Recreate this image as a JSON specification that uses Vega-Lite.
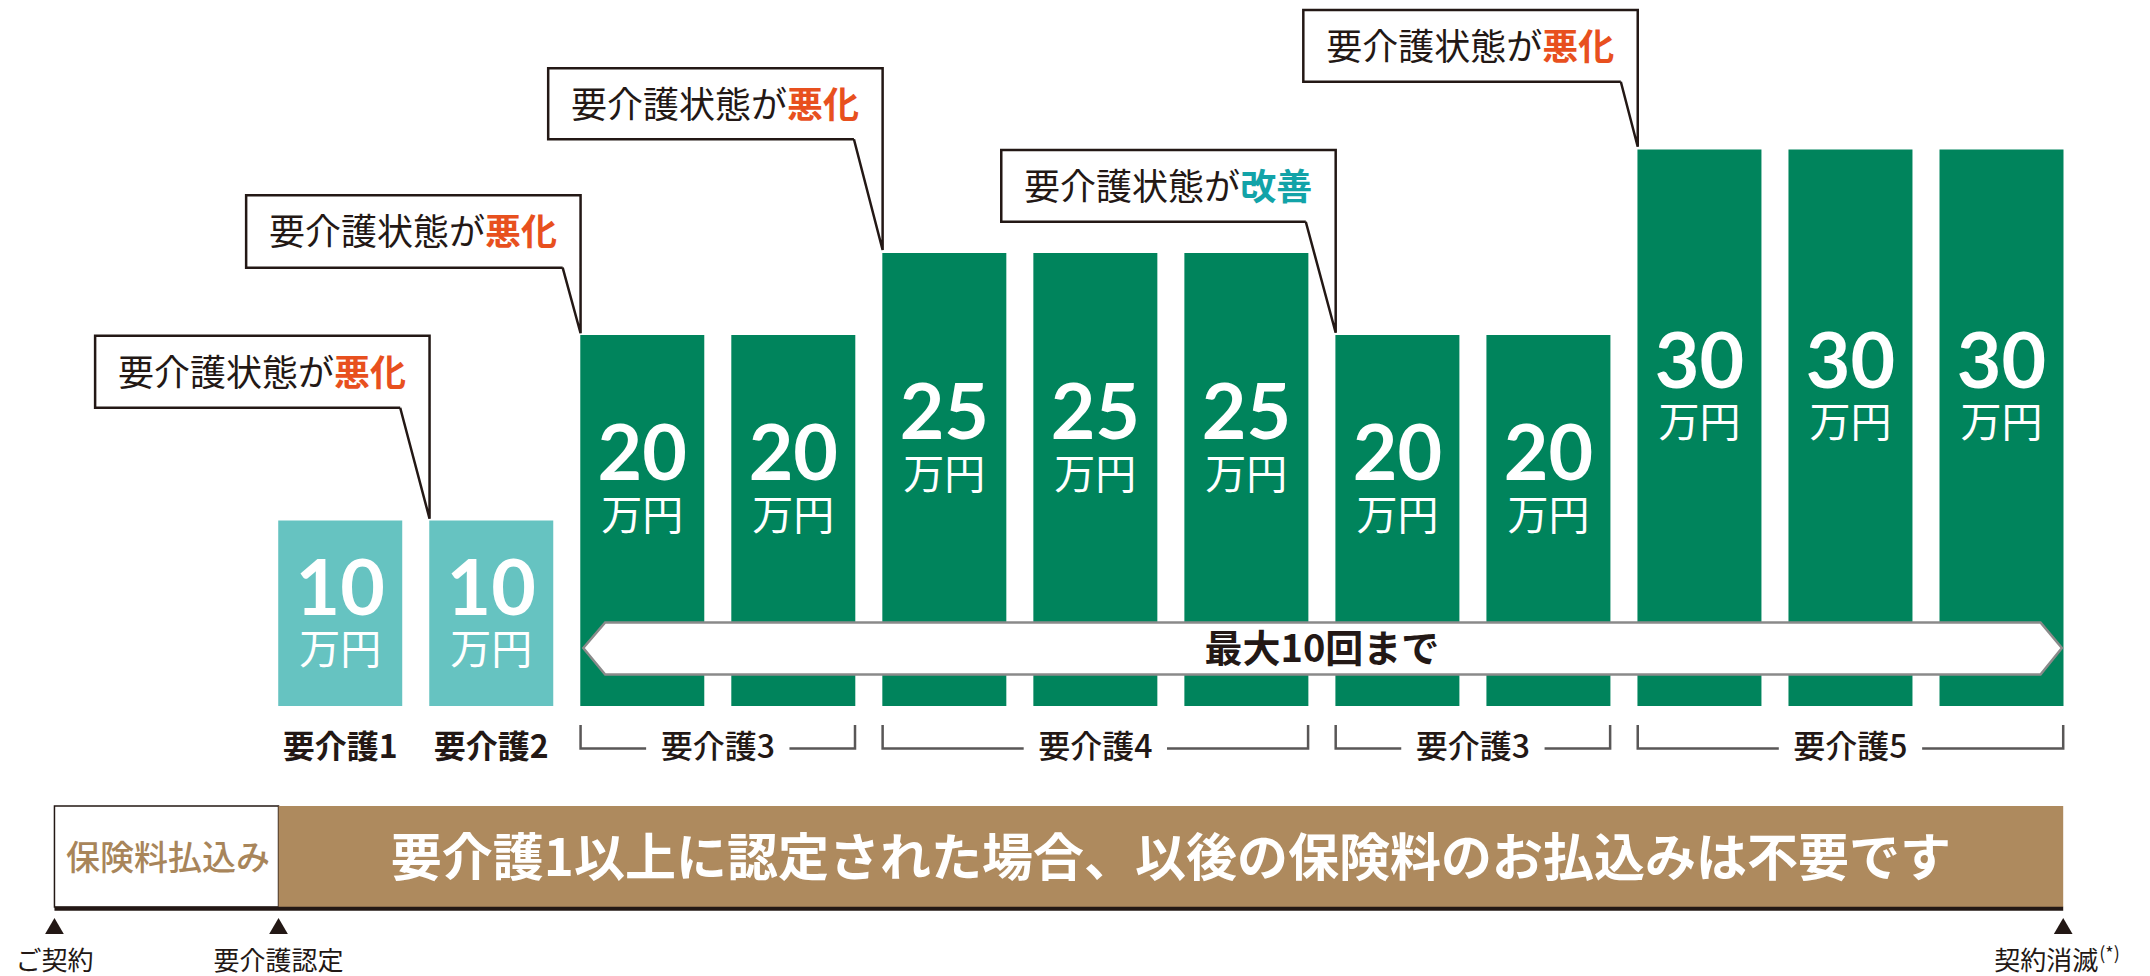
{
  "$schema": "https://vega.github.io/schema/vega-lite/v6.json",
  "width": 2150,
  "height": 976,
  "padding": 0,
  "autosize": {"type": "fit", "contains": "padding"},
  "background": "white",
  "config": {"view": {"stroke": null}, "text": {"font": "Noto Sans CJK JP"}},
  "datasets": {
    "bars": [
      {"x": 1, "amount": 10, "care": "要介護1"},
      {"x": 2, "amount": 10, "care": "要介護2"},
      {"x": 3, "amount": 20, "care": "要介護3"},
      {"x": 4, "amount": 20, "care": "要介護3"},
      {"x": 5, "amount": 25, "care": "要介護4"},
      {"x": 6, "amount": 25, "care": "要介護4"},
      {"x": 7, "amount": 25, "care": "要介護4"},
      {"x": 8, "amount": 20, "care": "要介護3"},
      {"x": 9, "amount": 20, "care": "要介護3"},
      {"x": 10, "amount": 30, "care": "要介護5"},
      {"x": 11, "amount": 30, "care": "要介護5"},
      {"x": 12, "amount": 30, "care": "要介護5"}
    ],
    "callouts": [
      {"id": "c1", "ord": 0, "x": 1.397, "y": 16.081},
      {"id": "c1", "ord": 1, "x": -0.623, "y": 16.081},
      {"id": "c1", "ord": 2, "x": -0.623, "y": 19.962},
      {"id": "c1", "ord": 3, "x": 1.5914, "y": 19.962},
      {"id": "c1", "ord": 4, "x": 1.5914, "y": 10.1},
      {"id": "c1", "ord": 5, "x": 1.397, "y": 16.081},
      {"id": "c2", "ord": 0, "x": 2.4728, "y": 24.104},
      {"id": "c2", "ord": 1, "x": 0.377, "y": 24.104},
      {"id": "c2", "ord": 2, "x": 0.377, "y": 27.787},
      {"id": "c2", "ord": 3, "x": 2.5914, "y": 27.787},
      {"id": "c2", "ord": 4, "x": 2.5914, "y": 20.104},
      {"id": "c2", "ord": 5, "x": 2.4728, "y": 24.104},
      {"id": "c3", "ord": 0, "x": 4.4014, "y": 30.55},
      {"id": "c3", "ord": 1, "x": 2.377, "y": 30.55},
      {"id": "c3", "ord": 2, "x": 2.377, "y": 34.377},
      {"id": "c3", "ord": 3, "x": 4.5914, "y": 34.377},
      {"id": "c3", "ord": 4, "x": 4.5914, "y": 25.145},
      {"id": "c3", "ord": 5, "x": 4.4014, "y": 30.55},
      {"id": "c4", "ord": 0, "x": 7.3934, "y": 26.512},
      {"id": "c4", "ord": 1, "x": 5.377, "y": 26.512},
      {"id": "c4", "ord": 2, "x": 5.377, "y": 29.976},
      {"id": "c4", "ord": 3, "x": 7.5914, "y": 29.976},
      {"id": "c4", "ord": 4, "x": 7.5914, "y": 20.14},
      {"id": "c4", "ord": 5, "x": 7.3934, "y": 26.512},
      {"id": "c5", "ord": 0, "x": 9.4794, "y": 33.655},
      {"id": "c5", "ord": 1, "x": 7.377, "y": 33.655},
      {"id": "c5", "ord": 2, "x": 7.377, "y": 37.52},
      {"id": "c5", "ord": 3, "x": 9.5914, "y": 37.52},
      {"id": "c5", "ord": 4, "x": 9.5914, "y": 30.15},
      {"id": "c5", "ord": 5, "x": 9.4794, "y": 33.655}
    ],
    "calloutText": [
      {"x": 0.9587, "y": 18.02, "pre": "要介護状態が", "post": "悪化", "tone": "worse"},
      {"x": 1.9587, "y": 26.039, "pre": "要介護状態が", "post": "悪化", "tone": "worse"},
      {"x": 3.9587, "y": 32.464, "pre": "要介護状態が", "post": "悪化", "tone": "worse"},
      {"x": 6.9587, "y": 28.249, "pre": "要介護状態が", "post": "改善", "tone": "better"},
      {"x": 8.9587, "y": 35.588, "pre": "要介護状態が", "post": "悪化", "tone": "worse"}
    ],
    "banner": [
      {"x": 2.6094, "y": 3.127, "y2": 3.127},
      {"x": 2.7544, "y": 4.501, "y2": 1.698},
      {"x": 12.2583, "y": 4.501, "y2": 1.698},
      {"x": 12.4, "y": 3.127, "y2": 3.127}
    ],
    "careLabels": [
      {"x": 1, "label": "要介護1", "group": "single"},
      {"x": 2, "label": "要介護2", "group": "single"},
      {"x": 3.5, "label": "要介護3", "group": "range"},
      {"x": 6, "label": "要介護4", "group": "range"},
      {"x": 8.5, "label": "要介護3", "group": "range"},
      {"x": 11, "label": "要介護5", "group": "range"}
    ],
    "brackets": [
      {"id": "b1l", "ord": 0, "x": 2.5914, "y": -1.024},
      {"id": "b1l", "ord": 1, "x": 2.5914, "y": -2.291},
      {"id": "b1l", "ord": 2, "x": 3.0255, "y": -2.291},
      {"id": "b1r", "ord": 0, "x": 3.9745, "y": -2.291},
      {"id": "b1r", "ord": 1, "x": 4.4086, "y": -2.291},
      {"id": "b1r", "ord": 2, "x": 4.4086, "y": -1.024},
      {"id": "b2l", "ord": 0, "x": 4.5914, "y": -1.024},
      {"id": "b2l", "ord": 1, "x": 4.5914, "y": -2.291},
      {"id": "b2l", "ord": 2, "x": 5.5255, "y": -2.291},
      {"id": "b2r", "ord": 0, "x": 6.4745, "y": -2.291},
      {"id": "b2r", "ord": 1, "x": 7.4086, "y": -2.291},
      {"id": "b2r", "ord": 2, "x": 7.4086, "y": -1.024},
      {"id": "b3l", "ord": 0, "x": 7.5914, "y": -1.024},
      {"id": "b3l", "ord": 1, "x": 7.5914, "y": -2.291},
      {"id": "b3l", "ord": 2, "x": 8.0255, "y": -2.291},
      {"id": "b3r", "ord": 0, "x": 8.9745, "y": -2.291},
      {"id": "b3r", "ord": 1, "x": 9.4086, "y": -2.291},
      {"id": "b3r", "ord": 2, "x": 9.4086, "y": -1.024},
      {"id": "b4l", "ord": 0, "x": 9.5914, "y": -1.024},
      {"id": "b4l", "ord": 1, "x": 9.5914, "y": -2.291},
      {"id": "b4l", "ord": 2, "x": 10.5255, "y": -2.291},
      {"id": "b4r", "ord": 0, "x": 11.4745, "y": -2.291},
      {"id": "b4r", "ord": 1, "x": 12.4086, "y": -2.291},
      {"id": "b4r", "ord": 2, "x": 12.4086, "y": -1.024}
    ],
    "bottomBar": [
      {"x": -0.8922, "x2": 0.5914, "y": -5.391, "y2": -10.836, "part": "paid", "text": "保険料払込み", "tx": -0.14},
      {"x": 0.5914, "x2": 12.4086, "y": -5.391, "y2": -10.836, "part": "waived", "text": "要介護1以上に認定された場合、以後の保険料のお払込みは不要です", "tx": 6.5}
    ],
    "timeline": [
      {"x": -0.8922, "label": "ご契約", "end": false},
      {"x": 0.5914, "label": "要介護認定", "end": false},
      {"x": 12.4086, "label": "契約消滅", "end": true}
    ]
  },
  "encoding": {
    "x": {"field": "x", "type": "quantitative", "scale": {"domain": [-1.2197, 12.9502], "nice": false, "zero": false}, "axis": null}
  },
  "resolve": {"scale": {"y": "independent"}},
  "layer": [
    {
      "layer": [
        {
          "data": {"name": "bars"},
          "mark": {"type": "bar", "size": 124},
          "encoding": {
            "y": {"field": "amount", "type": "quantitative", "scale": {"domain": [-14.555, 20, 25, 30, 38.06], "range": [976, 335, 253, 149.5, 0], "nice": false, "zero": false}, "axis": null},
            "y2": {"datum": 0},
            "color": {"condition": {"test": "datum.amount <= 10", "value": "#66C3C1"}, "value": "#00845C"}
          }
        },
        {
          "data": {"name": "banner"},
          "mark": {"type": "area", "fill": "#ffffff", "stroke": "#8a8a8a", "strokeWidth": 2.5, "strokeJoin": "miter"},
          "encoding": {
            "y": {"field": "y", "type": "quantitative", "scale": {"domain": [-14.555, 20, 25, 30, 38.06], "range": [976, 335, 253, 149.5, 0], "nice": false, "zero": false}, "axis": null},
            "y2": {"field": "y2"}
          }
        },
        {
          "data": {"values": [{"x": 7.5, "y": 3.127, "text": "最大10回まで"}]},
          "mark": {"type": "text", "fontSize": 38, "fontWeight": 700, "color": "#231815", "baseline": "middle", "align": "center", "dy": 3},
          "encoding": {
            "y": {"field": "y", "type": "quantitative", "scale": {"domain": [-14.555, 20, 25, 30, 38.06], "range": [976, 335, 253, 149.5, 0], "nice": false, "zero": false}, "axis": null},
            "text": {"field": "text"}
          }
        },
        {
          "data": {"name": "callouts"},
          "mark": {"type": "line", "color": "#231815", "strokeWidth": 2.5, "strokeJoin": "miter"},
          "encoding": {
            "y": {"field": "y", "type": "quantitative", "scale": {"domain": [-14.555, 20, 25, 30, 38.06], "range": [976, 335, 253, 149.5, 0], "nice": false, "zero": false}, "axis": null},
            "order": {"field": "ord"},
            "detail": {"field": "id"}
          }
        },
        {
          "data": {"name": "calloutText"},
          "mark": {"type": "text", "fontSize": 36, "fontWeight": 400, "color": "#231815", "baseline": "middle", "align": "right", "dy": 3},
          "encoding": {
            "y": {"field": "y", "type": "quantitative", "scale": {"domain": [-14.555, 20, 25, 30, 38.06], "range": [976, 335, 253, 149.5, 0], "nice": false, "zero": false}, "axis": null},
            "text": {"field": "pre"}
          }
        },
        {
          "data": {"name": "calloutText"},
          "mark": {"type": "text", "fontSize": 36, "fontWeight": 700, "baseline": "middle", "align": "left", "dy": 3},
          "encoding": {
            "y": {"field": "y", "type": "quantitative", "scale": {"domain": [-14.555, 20, 25, 30, 38.06], "range": [976, 335, 253, 149.5, 0], "nice": false, "zero": false}, "axis": null},
            "text": {"field": "post"},
            "color": {"condition": {"test": "datum.tone === 'better'", "value": "#12A3A8"}, "value": "#E8501E"}
          }
        },
        {
          "data": {"name": "careLabels"},
          "transform": [{"filter": "datum.group === 'single'"}],
          "mark": {"type": "text", "fontSize": 32, "fontWeight": 700, "color": "#231815", "baseline": "middle", "align": "center", "dy": 2.5},
          "encoding": {
            "y": {"datum": -2.15, "type": "quantitative", "scale": {"domain": [-14.555, 20, 25, 30, 38.06], "range": [976, 335, 253, 149.5, 0], "nice": false, "zero": false}, "axis": null},
            "text": {"field": "label"}
          }
        },
        {
          "data": {"name": "careLabels"},
          "transform": [{"filter": "datum.group === 'range'"}],
          "mark": {"type": "text", "fontSize": 32, "fontWeight": 500, "color": "#231815", "baseline": "middle", "align": "center", "dy": 2.5},
          "encoding": {
            "y": {"datum": -2.15, "type": "quantitative", "scale": {"domain": [-14.555, 20, 25, 30, 38.06], "range": [976, 335, 253, 149.5, 0], "nice": false, "zero": false}, "axis": null},
            "text": {"field": "label"}
          }
        },
        {
          "data": {"name": "brackets"},
          "mark": {"type": "line", "color": "#595757", "strokeWidth": 2.5, "strokeJoin": "miter"},
          "encoding": {
            "y": {"field": "y", "type": "quantitative", "scale": {"domain": [-14.555, 20, 25, 30, 38.06], "range": [976, 335, 253, 149.5, 0], "nice": false, "zero": false}, "axis": null},
            "order": {"field": "ord"},
            "detail": {"field": "id"}
          }
        },
        {
          "data": {"name": "bottomBar"},
          "transform": [{"filter": "datum.part === 'paid'"}],
          "mark": {"type": "rect", "fill": "#ffffff", "stroke": "#231815", "strokeWidth": 1.5},
          "encoding": {
            "y": {"field": "y", "type": "quantitative", "scale": {"domain": [-14.555, 20, 25, 30, 38.06], "range": [976, 335, 253, 149.5, 0], "nice": false, "zero": false}, "axis": null},
            "x2": {"field": "x2"},
            "y2": {"field": "y2"}
          }
        },
        {
          "data": {"name": "bottomBar"},
          "transform": [{"filter": "datum.part === 'waived'"}],
          "mark": {"type": "rect", "fill": "#AE8A5E"},
          "encoding": {
            "y": {"field": "y", "type": "quantitative", "scale": {"domain": [-14.555, 20, 25, 30, 38.06], "range": [976, 335, 253, 149.5, 0], "nice": false, "zero": false}, "axis": null},
            "x2": {"field": "x2"},
            "y2": {"field": "y2"}
          }
        },
        {
          "data": {"values": [{"x": -0.8922, "x2": 12.4086, "y": -10.93}]},
          "mark": {"type": "rule", "color": "#231815", "strokeWidth": 4},
          "encoding": {
            "y": {"field": "y", "type": "quantitative", "scale": {"domain": [-14.555, 20, 25, 30, 38.06], "range": [976, 335, 253, 149.5, 0], "nice": false, "zero": false}, "axis": null},
            "x2": {"field": "x2"}
          }
        },
        {
          "data": {"name": "bottomBar"},
          "transform": [{"filter": "datum.part === 'paid'"}],
          "mark": {"type": "text", "fontSize": 34, "fontWeight": 500, "color": "#A8855A", "baseline": "middle", "align": "center", "dy": 2.7},
          "encoding": {
            "x": {"field": "tx", "type": "quantitative", "scale": {"domain": [-1.2197, 12.9502], "nice": false, "zero": false}, "axis": null},
            "y": {"datum": -8.14, "type": "quantitative", "scale": {"domain": [-14.555, 20, 25, 30, 38.06], "range": [976, 335, 253, 149.5, 0], "nice": false, "zero": false}, "axis": null},
            "text": {"field": "text"}
          }
        },
        {
          "data": {"name": "bottomBar"},
          "transform": [{"filter": "datum.part === 'waived'"}],
          "mark": {"type": "text", "fontSize": 51, "fontWeight": 700, "color": "#ffffff", "baseline": "middle", "align": "center", "dy": 4},
          "encoding": {
            "x": {"field": "tx", "type": "quantitative", "scale": {"domain": [-1.2197, 12.9502], "nice": false, "zero": false}, "axis": null},
            "y": {"datum": -8.14, "type": "quantitative", "scale": {"domain": [-14.555, 20, 25, 30, 38.06], "range": [976, 335, 253, 149.5, 0], "nice": false, "zero": false}, "axis": null},
            "text": {"field": "text"}
          }
        },
        {
          "data": {"name": "timeline"},
          "mark": {"type": "point", "shape": "triangle-up", "filled": true, "size": 350, "color": "#231815", "opacity": 1},
          "encoding": {
            "y": {"datum": -11.86, "type": "quantitative", "scale": {"domain": [-14.555, 20, 25, 30, 38.06], "range": [976, 335, 253, 149.5, 0], "nice": false, "zero": false}, "axis": null}
          }
        },
        {
          "data": {"name": "timeline"},
          "transform": [{"filter": "!datum.end"}],
          "mark": {"type": "text", "fontSize": 26, "fontWeight": 400, "color": "#231815", "baseline": "middle", "align": "center", "dy": 2},
          "encoding": {
            "y": {"datum": -13.666, "type": "quantitative", "scale": {"domain": [-14.555, 20, 25, 30, 38.06], "range": [976, 335, 253, 149.5, 0], "nice": false, "zero": false}, "axis": null},
            "text": {"field": "label"}
          }
        },
        {
          "data": {"name": "timeline"},
          "transform": [{"filter": "datum.end"}],
          "mark": {"type": "text", "fontSize": 26, "fontWeight": 400, "color": "#231815", "baseline": "middle", "align": "right", "dx": 35, "dy": 2},
          "encoding": {
            "y": {"datum": -13.666, "type": "quantitative", "scale": {"domain": [-14.555, 20, 25, 30, 38.06], "range": [976, 335, 253, 149.5, 0], "nice": false, "zero": false}, "axis": null},
            "text": {"field": "label"}
          }
        },
        {
          "data": {"name": "timeline"},
          "transform": [{"filter": "datum.end"}],
          "mark": {"type": "text", "fontSize": 18, "fontWeight": 400, "color": "#231815", "baseline": "middle", "align": "left", "dx": 36, "dy": 0, "text": "(*)"},
          "encoding": {
            "y": {"datum": -13.4, "type": "quantitative", "scale": {"domain": [-14.555, 20, 25, 30, 38.06], "range": [976, 335, 253, 149.5, 0], "nice": false, "zero": false}, "axis": null}
          }
        }
      ]
    },
    {
      "data": {"name": "bars"},
      "encoding": {
        "y": {"field": "amount", "type": "quantitative", "scale": {"domain": [10, 20, 25, 30], "range": [613, 478.75, 437.75, 386], "nice": false, "zero": false}, "axis": null}
      },
      "layer": [
        {
          "mark": {"type": "text", "font": "Lato", "fontSize": 77, "fontWeight": 700, "color": "#ffffff", "baseline": "alphabetic", "align": "center", "dy": 1.5},
          "encoding": {"text": {"field": "amount", "type": "nominal"}}
        },
        {
          "mark": {"type": "text", "fontSize": 41, "fontWeight": 400, "color": "#ffffff", "baseline": "alphabetic", "align": "center", "dy": 51, "text": "万円"}
        }
      ]
    }
  ]
}
